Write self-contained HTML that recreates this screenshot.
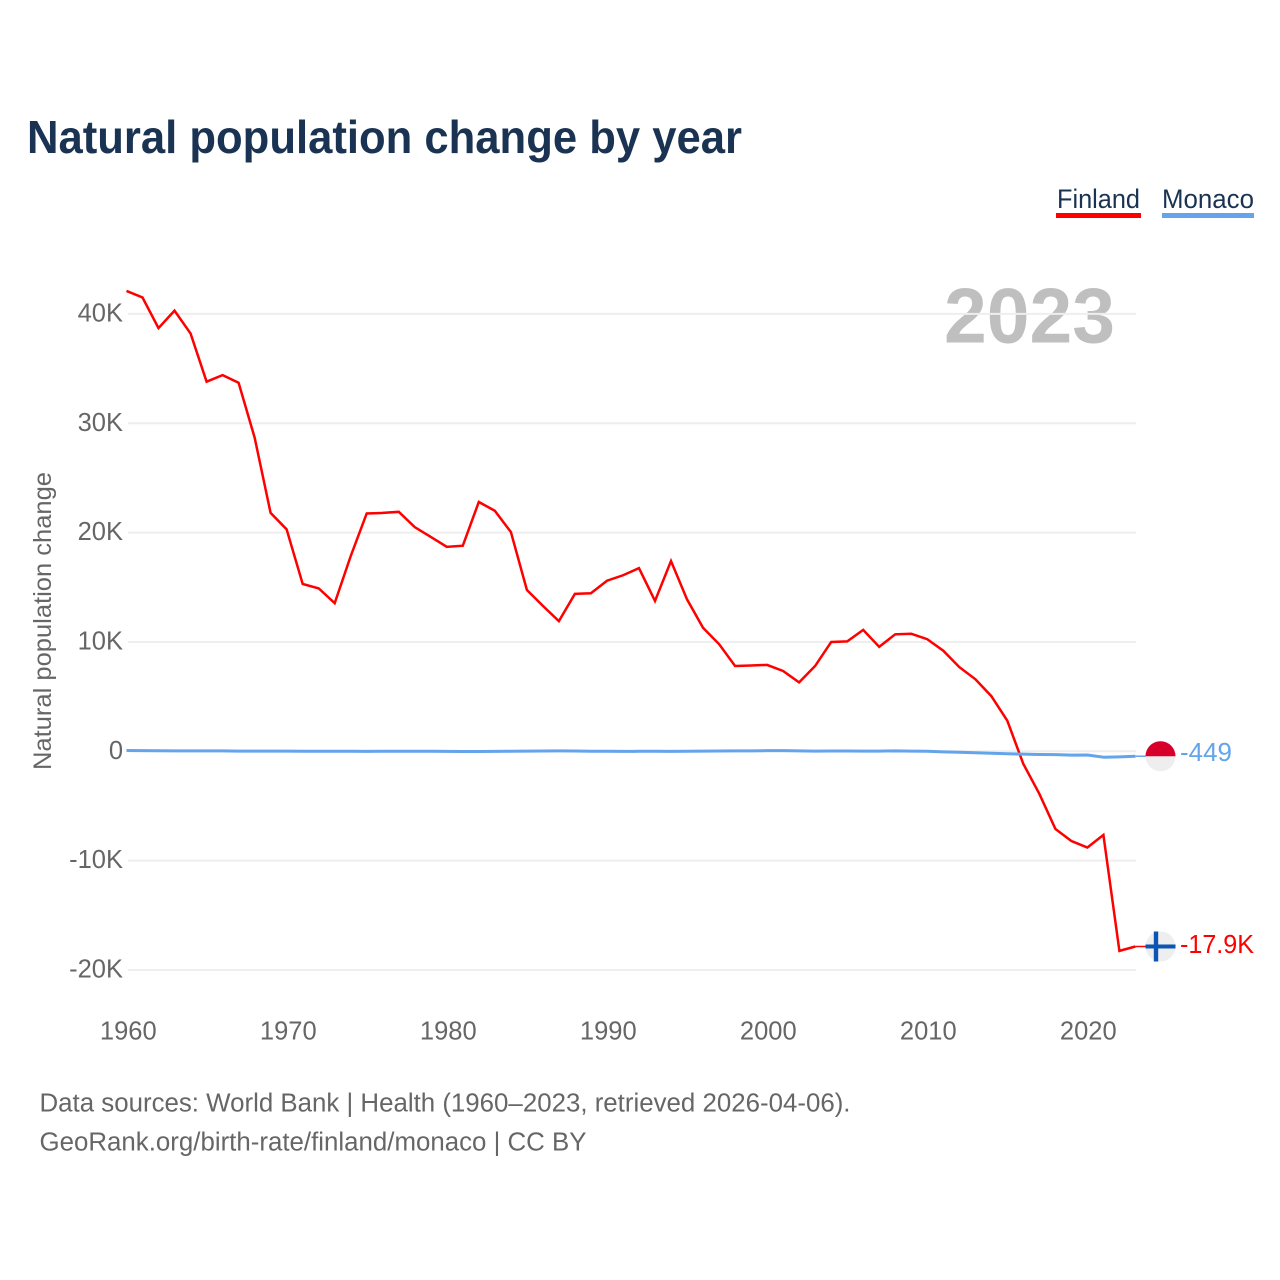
<!DOCTYPE html>
<html lang="en">
<head>
<meta charset="utf-8">
<title>Natural population change by year</title>
<style>
html,body{margin:0;padding:0;background:#fff;}
svg{display:block;font-family:"Liberation Sans",sans-serif;}
</style>
</head>
<body>
<svg id="chart" xmlns="http://www.w3.org/2000/svg" width="1280" height="1280" viewBox="0 0 1280 1280">
  <text x="27" y="153" font-size="46" font-weight="700" fill="#1a3353" textLength="715" lengthAdjust="spacingAndGlyphs">Natural population change by year</text>
  <text x="1057" y="208" font-size="27" fill="#1a3353" textLength="83" lengthAdjust="spacingAndGlyphs">Finland</text>
  <rect x="1056" y="213" width="85" height="5" fill="#ff0000"/>
  <text x="1162" y="208" font-size="27" fill="#1a3353" textLength="92" lengthAdjust="spacingAndGlyphs">Monaco</text>
  <rect x="1162" y="213" width="92" height="5" fill="#63a4ea"/>
  <text x="944" y="342.5" font-size="78" font-weight="700" fill="#bfbfbf" textLength="171" lengthAdjust="spacingAndGlyphs">2023</text>
  <text transform="translate(51,770) rotate(-90)" x="0" y="0" font-size="25" fill="#666666" textLength="298" lengthAdjust="spacingAndGlyphs">Natural population change</text>
  <g id="grid"></g>
  <g id="yticks"></g>
  <g id="xticks"></g>
  <g id="series"></g>
  <g id="flags"></g>
  <text x="39.5" y="1111.5" font-size="25.5" fill="#666666" textLength="811" lengthAdjust="spacingAndGlyphs">Data sources: World Bank | Health (1960–2023, retrieved 2026-04-06).</text>
  <text x="39.5" y="1150.5" font-size="25.5" fill="#666666" textLength="547" lengthAdjust="spacingAndGlyphs">GeoRank.org/birth-rate/finland/monaco | CC BY</text>
</svg>
<script>
const startYear = 1960;
const xTickYears = [1960, 1970, 1980, 1990, 2000, 2010, 2020];
const yTickValues = [40000, 30000, 20000, 10000, 0, -10000, -20000];
const yTickLabels = ['40K', '30K', '20K', '10K', '0', '-10K', '-20K'];
const finlandValues = [
  42100, 41500, 38700, 40300, 38200, 33800, 34400, 33700, 28700, 21800,
  20300, 15300, 14900, 13550, 17850, 21750, 21800, 21900, 20500, 19600,
  18700, 18800, 22800, 22000, 20050, 14750, 13300, 11900, 14400, 14450,
  15600, 16100, 16750, 13750, 17400, 13900, 11300, 9800, 7800, 7850,
  7900, 7350, 6300, 7800, 10000, 10050, 11100, 9550, 10700, 10750,
  10250, 9200, 7700, 6600, 5050, 2800, -1150, -3900, -7100, -8200,
  -8800, -7650, -18250, -17850
];
const monacoValues = [
  70, 60, 50, 40, 40, 40, 35, 20, 20, 20,
  20, 10, 10, 0, 0, -10, 0, 0, 0, 0,
  -10, -20, -20, -10, 10, 20, 30, 40, 30, 10,
  0, -10, 0, 0, -5, 5, 20, 30, 40, 40,
  60, 60, 40, 20, 25, 30, 20, 20, 40, 20,
  0, -50, -90, -130, -180, -220, -260, -290, -300, -350,
  -340, -540, -510, -449
];
const finlandEndLabel = '-17.9K';
const monacoEndLabel = '-449';

const xAxis = year => 126.5 + (year - 1960) * 16.015;
const xTickAxis = year => 128.3 + (year - 1960) * 16;
const yAxis = value => 751.3 - value * 0.010935;
const plotLeft = 128;
const plotRight = 1136;
const leaderRight = 1146;
const NS = 'http://www.w3.org/2000/svg';

function make(tag, attrs, parent) {
  const el = document.createElementNS(NS, tag);
  for (const k in attrs) el.setAttribute(k, attrs[k]);
  parent.appendChild(el);
  return el;
}

const grid = document.getElementById('grid');
const yticks = document.getElementById('yticks');
const xticks = document.getElementById('xticks');
const series = document.getElementById('series');
const flags = document.getElementById('flags');

yTickValues.forEach((v, i) => {
  const line = make('line', {x1: plotLeft, x2: plotRight, y1: yAxis(v), y2: yAxis(v), stroke: '#eeeeee', 'stroke-width': 2}, grid);
  
  
  const t = make('text', {x: 123, y: yAxis(v) + 7.5, 'text-anchor': 'end', 'font-size': 25.5, fill: '#666666'}, yticks);
  t.textContent = yTickLabels[i];
  
  
});

xTickYears.forEach(y => {
  const t = make('text', {x: xTickAxis(y), y: 1039.5, 'text-anchor': 'middle', 'font-size': 25.5, fill: '#666666'}, xticks);
  t.textContent = String(y);
  
  
});

function linePoints(values) {
  return values.map((v, i) => xAxis(startYear + i).toFixed(1) + ',' + yAxis(v).toFixed(2)).join(' ');
}

const finlandLine = make('polyline', {points: linePoints(finlandValues), fill: 'none', stroke: '#ff0000', 'stroke-width': 2.5, 'stroke-linejoin': 'miter'}, series);



const monacoLine = make('polyline', {points: linePoints(monacoValues), fill: 'none', stroke: '#63a4ea', 'stroke-width': 3, 'stroke-linejoin': 'round'}, series);



const finlandEndY = yAxis(finlandValues[finlandValues.length - 1]);
const monacoEndY = yAxis(monacoValues[monacoValues.length - 1]);
const finlandEndX = xAxis(startYear + finlandValues.length - 1);
const monacoEndX = xAxis(startYear + monacoValues.length - 1);

const finlandLeader = make('line', {x1: finlandEndX, x2: leaderRight, y1: finlandEndY, y2: finlandEndY, stroke: '#ff0000', 'stroke-width': 1.5}, series);



const monacoLeader = make('line', {x1: monacoEndX, x2: leaderRight, y1: monacoEndY, y2: monacoEndY, stroke: '#63a4ea', 'stroke-width': 1.5}, series);



const flagX = 1160.5;
const flagR = 15;

const monacoFlag = make('g', {}, flags);


make('circle', {cx: flagX, cy: monacoEndY, r: flagR, fill: '#eeeeee'}, monacoFlag);
make('path', {d: `M${flagX - flagR} ${monacoEndY} A${flagR} ${flagR} 0 0 1 ${flagX + flagR} ${monacoEndY} Z`, fill: '#d7002a'}, monacoFlag);

const finlandFlag = make('g', {}, flags);


make('circle', {cx: flagX, cy: finlandEndY, r: flagR, fill: '#eeeeee'}, finlandFlag);
make('rect', {x: flagX - flagR, y: finlandEndY - 2, width: 2 * flagR, height: 4, fill: '#0b56b4'}, finlandFlag);
make('rect', {x: flagX - 6.7, y: finlandEndY - flagR, width: 4.4, height: 2 * flagR, fill: '#0b56b4'}, finlandFlag);

const monacoEnd = make('text', {x: 1180, y: monacoEndY + 5, 'font-size': 25.5, fill: '#63a4ea', textLength: 52, lengthAdjust: 'spacingAndGlyphs'}, flags);
monacoEnd.textContent = monacoEndLabel;



const finlandEnd = make('text', {x: 1180, y: finlandEndY + 6.5, 'font-size': 25.5, fill: '#ff0000', textLength: 74, lengthAdjust: 'spacingAndGlyphs'}, flags);
finlandEnd.textContent = finlandEndLabel;


</script>
</body>
</html>
